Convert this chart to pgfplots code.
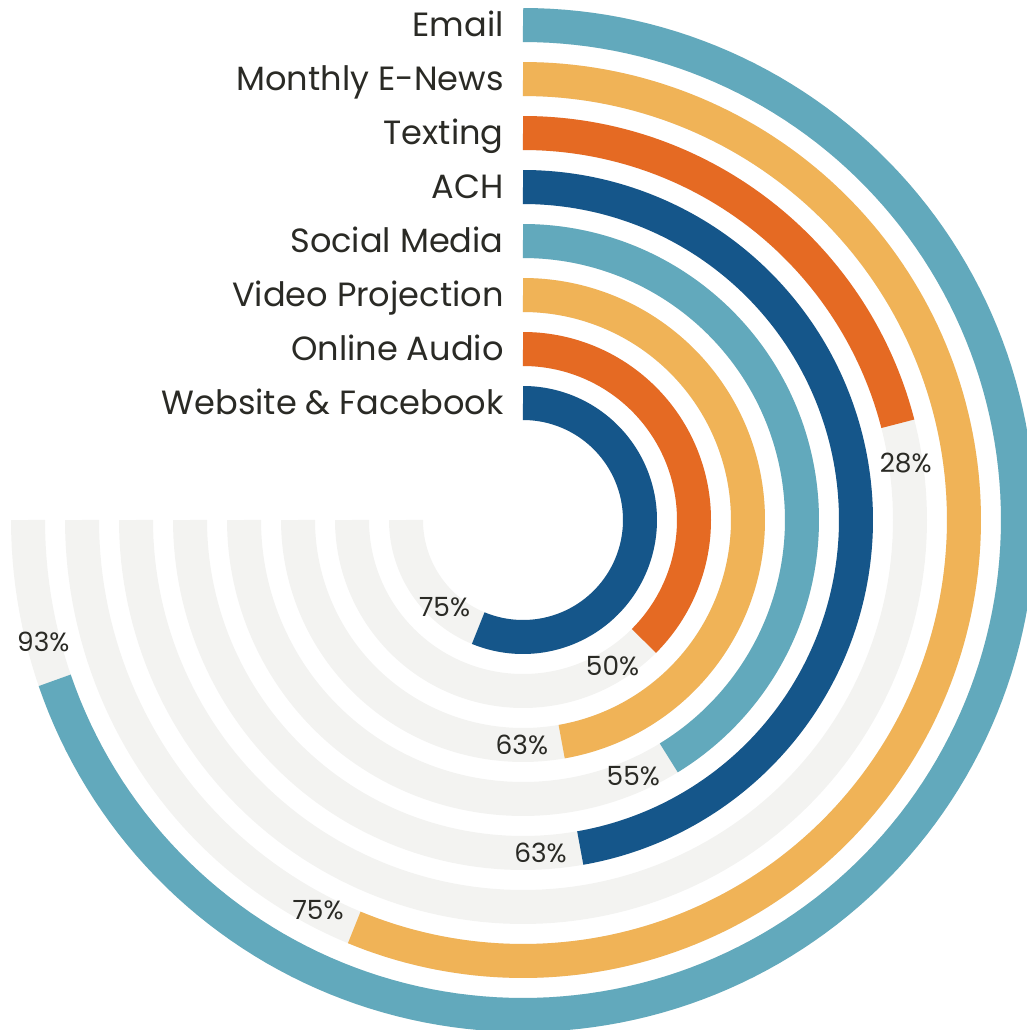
\documentclass[border=0pt]{standalone}
\usepackage{pgfplots}
\pgfplotsset{compat=1.18}
\usepackage{fontspec}
\setmainfont{Poppins}
\definecolor{cteal}{HTML}{62A9BC}
\definecolor{cyell}{HTML}{F0B357}
\definecolor{corng}{HTML}{E56A23}
\definecolor{cblue}{HTML}{15568A}
\definecolor{cgray}{HTML}{F3F3F1}
\definecolor{ctext}{HTML}{2A2A25}
% #1 radius (px), #2 value (%), #3 colour, #4 category
\newcommand\rbar[4]{%
  \addplot[cgray, line width=17pt, domain=-180:90, samples=181] ({#1*cos(x)},{#1*sin(x)});
  \addplot[#3, line width=17pt, domain={90-2.7*#2}:90, samples=160] ({#1*cos(x)},{#1*sin(x)});
  \node[anchor=base east, font=\fontsize{16.8}{18}\selectfont, text=ctext, inner sep=0pt] at (axis cs:-19,#1-12) {#4};
  \node[font=\fontsize{13.2}{15}\selectfont, text=ctext, inner sep=0pt] at (axis cs:{#1*cos(90-2.7*#2-2292/#1)},{#1*sin(90-2.7*#2-2292/#1)}) {#2\%};
}
\begin{document}
\begin{tikzpicture}
\begin{axis}[
  x=0.5pt, y=0.5pt,
  xmin=-523, xmax=504, ymin=-510, ymax=520,
  hide axis, no markers, clip=true,
]
\rbar{495}{93}{cteal}{Email}
\rbar{441}{75}{cyell}{Monthly E-News}
\rbar{387}{28}{corng}{Texting}
\rbar{333}{63}{cblue}{ACH}
\rbar{279}{55}{cteal}{Social Media}
\rbar{225}{63}{cyell}{Video Projection}
\rbar{171}{50}{corng}{Online Audio}
\rbar{117}{75}{cblue}{Website \& Facebook}
\end{axis}
\pgfresetboundingbox
\path (current axis.south west) rectangle (current axis.north east);
\end{tikzpicture}
\end{document}
